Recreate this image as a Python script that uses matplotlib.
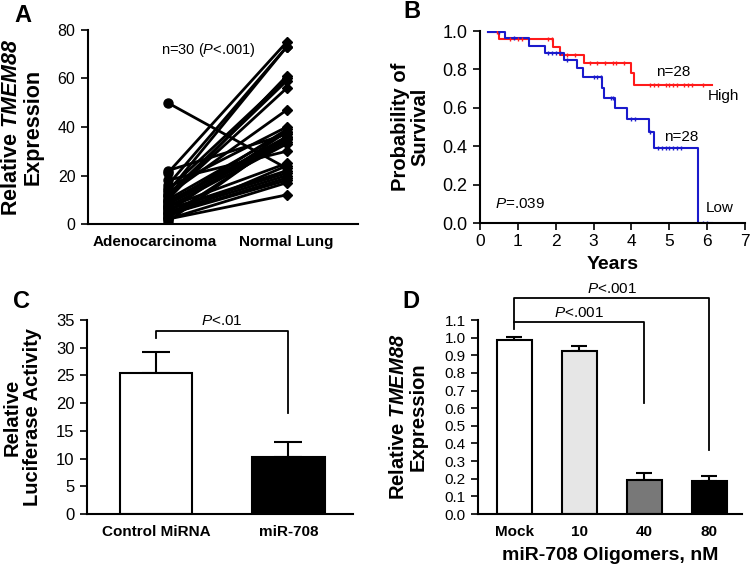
import numpy as np
import matplotlib
matplotlib.use("Agg")
import matplotlib.pyplot as plt
import matplotlib.transforms as mtrans

plt.rcParams['font.family'] = ['Liberation Sans', 'DejaVu Sans']
plt.rcParams['mathtext.fontset'] = 'custom'
plt.rcParams['mathtext.rm'] = 'Liberation Sans'
plt.rcParams['mathtext.it'] = 'Liberation Sans:italic'
plt.rcParams['mathtext.bf'] = 'Liberation Sans:bold'
plt.rcParams['mathtext.bfit'] = 'Liberation Sans:italic:bold'

# panel A: paired TMEM88 expression, 30 patients
adeno = [50, 22, 21, 18, 16, 15, 14, 13, 12, 12, 11, 10, 10, 9, 9,
         8, 8, 7, 7, 6, 6, 5, 5, 4, 4, 3, 3, 2, 2, 1]
normal = [23, 37, 75, 30, 73, 40, 60, 73, 59, 47, 56, 38, 61, 36, 35,
          39, 34, 33, 25, 22, 21, 38, 20, 19, 18, 35, 24, 17, 12, 36]
pair_labels = ['Adenocarcinoma', 'Normal Lung']

# panel B: Kaplan-Meier curves
high_t = [0.22, 0.49, 1.94, 2.10, 2.74, 3.98, 4.08, 6.12]
high_s = [0.993, 0.957, 0.918, 0.875, 0.832, 0.78, 0.72, 0.72]
low_t = [0.22, 0.66, 1.30, 1.73, 2.23, 2.55, 2.73, 3.23, 3.27, 3.57,
         3.88, 4.46, 4.59, 5.76, 6.12]
low_s = [0.993, 0.962, 0.924, 0.887, 0.85, 0.806, 0.759, 0.702, 0.650,
         0.601, 0.544, 0.473, 0.393, 0.0, 0.0]
high_cens = [0.45, 0.8, 1.0, 1.1, 1.8, 1.9, 2.3, 2.5, 2.9, 3.1, 3.3, 3.5,
             3.6, 3.8, 4.5, 4.6, 4.7, 4.9, 5.0, 5.1, 5.2, 5.4, 5.5, 5.6, 5.9]
low_cens = [0.5, 0.9, 1.8, 1.9, 2.0, 2.1, 2.3, 3.0, 3.1, 3.2, 3.45, 3.5,
            4.0, 4.1, 4.5, 4.7, 4.8, 4.9, 5.0, 5.1, 5.2, 5.3, 5.9, 6.0]

# panel C: luciferase
luc_labels = ['Control MiRNA', 'miR-708']
luc_vals = [25.5, 10.2]
luc_err = [3.8, 2.7]
luc_colors = ['white', 'black']

# panel D: oligomer dose
dose_labels = ['Mock', '10', '40', '80']
dose_vals = [0.987, 0.924, 0.193, 0.189]
dose_err = [0.019, 0.029, 0.041, 0.026]
dose_colors = ['white', '#e6e6e6', '#787878', 'black']

W, H = 750, 570
fig = plt.figure(figsize=(7.5, 5.7), dpi=100)


def box(l, t, r, b):
    return [l / W, 1 - b / H, (r - l) / W, (b - t) / H]


def style(ax, ysize, xsize, xticks=False):
    for s in ['top', 'right']:
        ax.spines[s].set_visible(False)
    for s in ['left', 'bottom']:
        ax.spines[s].set_linewidth(1.5)
    ax.tick_params(axis='y', direction='out', width=1.2, length=5, pad=4, labelsize=ysize)
    if xticks:
        ax.tick_params(axis='x', direction='out', width=1.2, length=5, pad=3, labelsize=xsize)
    else:
        ax.tick_params(axis='x', length=0, labelsize=xsize, pad=8)


def ylab(ax, text, size, x):
    ax.set_ylabel(text, fontsize=size, fontweight='bold', linespacing=1.05)
    ax.yaxis.set_label_coords(x, 0.5)


# ---- A
axA = fig.add_axes(box(88, 30, 358, 224))
for a, n in zip(adeno, normal):
    axA.plot([0, 1], [a, n], color='black', lw=2, zorder=2)
axA.plot([0] * len(adeno), adeno, 'o', color='black', ms=6.5, zorder=3)
axA.plot([1] * len(normal), normal, 'D', color='black', ms=5.5, zorder=3)
axA.set_xlim(-0.67, 1.6)
axA.set_ylim(0, 80)
axA.set_yticks([0, 20, 40, 60, 80])
axA.set_xticks([0, 1])
axA.set_xticklabels(pair_labels, fontweight='bold')
style(axA, 11.5, 11)
first = axA.get_xticklabels()[0]
first.set_transform(first.get_transform() +
                    mtrans.ScaledTranslation(-0.13, 0, fig.dpi_scale_trans))
ylab(axA, 'Relative $\\bfit{TMEM88}$\nExpression', 15.5, -0.165)
axA.text(0.345, 71.7, 'n=30 ($P$<.001)', fontsize=10.5, ha='center', va='center')

# ---- B
axB = fig.add_axes(box(480, 31, 745, 223))
axB.step(high_t, high_s, where='post', color='#ff1a1a', lw=1.5)
axB.step(low_t, low_s, where='post', color='#1a1acc', lw=1.5)
hy = [high_s[np.searchsorted(high_t, c, side='right') - 1] for c in high_cens]
ly = [low_s[np.searchsorted(low_t, c, side='right') - 1] for c in low_cens]
axB.plot(high_cens, hy, '|', color='#ff1a1a', ms=3, mew=1)
axB.plot(low_cens, ly, '|', color='#1a1acc', ms=3, mew=1)
axB.set_xlim(0, 7)
axB.set_ylim(0, 1.0)
axB.set_xticks(range(8))
axB.set_yticks([0, 0.2, 0.4, 0.6, 0.8, 1.0])
axB.set_yticklabels(['0.0', '0.2', '0.4', '0.6', '0.8', '1.0'])
style(axB, 13, 12.5, xticks=True)
axB.set_xlabel('Years', fontsize=14, fontweight='bold', labelpad=5)
ylab(axB, 'Probability of\nSurvival', 14.5, -0.19)
axB.text(5.1, 0.785, 'n=28', fontsize=11, ha='center', va='center')
axB.text(6.42, 0.66, 'High', fontsize=11, ha='center', va='center')
axB.text(5.32, 0.45, 'n=28', fontsize=11, ha='center', va='center')
axB.text(6.34, 0.08, 'Low', fontsize=11, ha='center', va='center')
axB.text(0.4, 0.10, '$P$=.039', fontsize=11, ha='left', va='center')

# ---- C
axC = fig.add_axes(box(87, 320, 353, 514))
xc = np.arange(len(luc_vals))
axC.bar(xc, luc_vals, width=0.55, color=luc_colors, edgecolor='black', lw=1.5, zorder=2)
axC.errorbar(xc, luc_vals, yerr=[[0, 0], luc_err], fmt='none', ecolor='black',
             elinewidth=1.5, capsize=10, capthick=1.5, zorder=1)
axC.plot([0, 0, 1, 1], [31.7, 33.0, 33.0, 18.2], color='black', lw=1.3)
axC.text(0.5, 34.8, '$P$<.01', fontsize=11, ha='center', va='center')
axC.set_xlim(-0.523, 1.49)
axC.set_ylim(0, 35)
axC.set_yticks(range(0, 36, 5))
axC.set_xticks(xc)
axC.set_xticklabels(luc_labels, fontweight='bold')
style(axC, 12, 11)
ylab(axC, 'Relative\nLuciferase Activity', 14.5, -0.17)

# ---- D
axD = fig.add_axes(box(478, 320, 742, 514))
xd = np.arange(len(dose_vals))
axD.bar(xd, dose_vals, width=0.55, color=dose_colors, edgecolor='black', lw=1.5, zorder=2)
axD.errorbar(xd, dose_vals, yerr=[[0] * 4, dose_err], fmt='none', ecolor='black',
             elinewidth=1.5, capsize=6, capthick=1.5, zorder=1)
axD.plot([0, 0, 2, 2], [1.05, 1.09, 1.09, 0.627], color='black', lw=1.3, clip_on=False)
axD.plot([0, 0, 3, 3], [1.09, 1.223, 1.223, 0.363], color='black', lw=1.3, clip_on=False)
axD.text(1.0, 1.142, '$P$<.001', fontsize=11, ha='center', va='center')
axD.text(1.5, 1.275, '$P$<.001', fontsize=11, ha='center', va='center')
axD.set_xlim(-0.56, 3.5)
axD.set_ylim(0, 1.1)
axD.set_yticks(np.arange(0, 1.15, 0.1))
axD.set_yticklabels(['%.1f' % v for v in np.arange(0, 1.15, 0.1)])
axD.set_xticks(xd)
axD.set_xticklabels(dose_labels, fontweight='bold')
style(axD, 11, 11)
axD.set_xlabel('miR-708 Oligomers, nM', fontsize=14, fontweight='bold', labelpad=6)
ylab(axD, 'Relative $\\bfit{TMEM88}$\nExpression', 14.5, -0.19)

# panel letters
for lbl, x, y in [('A', 23, 15), ('B', 412, 12), ('C', 22, 302), ('D', 411, 302)]:
    fig.text(x / W, 1 - y / H, lbl, fontsize=17, fontweight='bold',
             ha='center', va='center')

fig.savefig('out.png', dpi=100)
